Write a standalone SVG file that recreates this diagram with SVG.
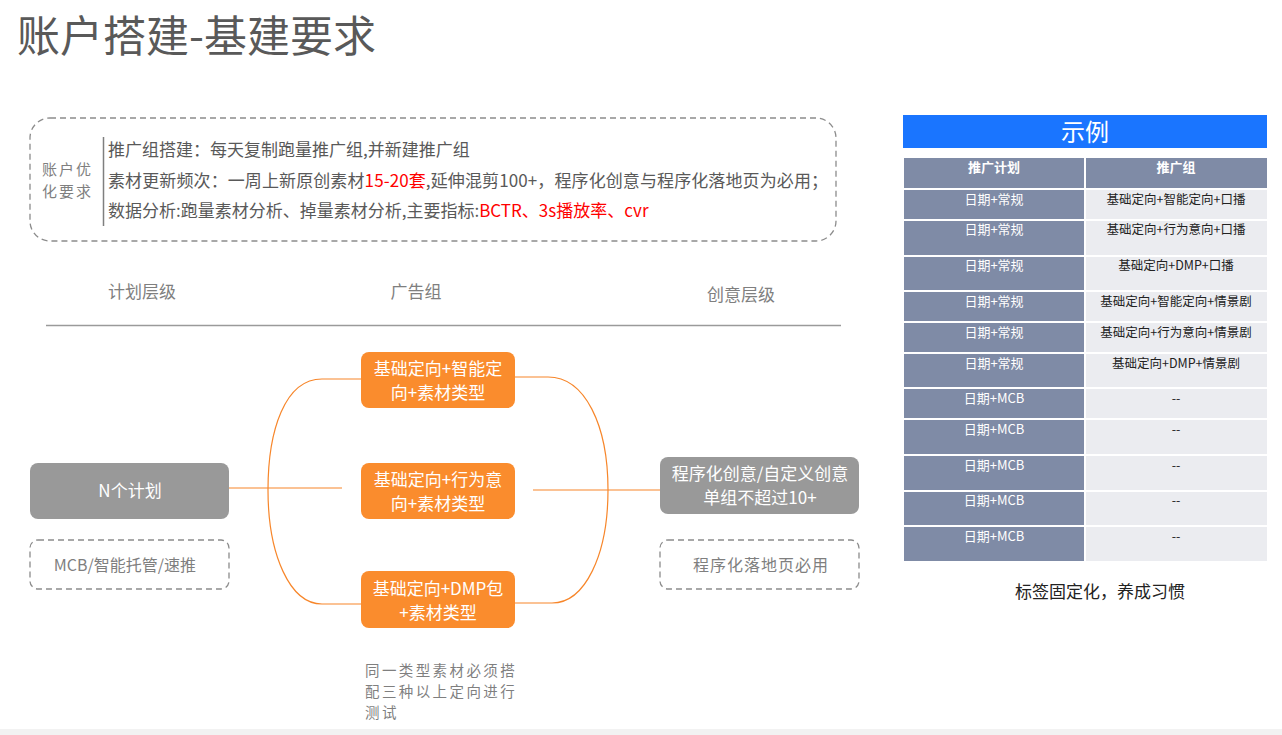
<svg xmlns="http://www.w3.org/2000/svg" width="1282" height="735" viewBox="0 0 1282 735">
<style>
text{font-family:"Noto Sans CJK SC","Liberation Sans",sans-serif;}
.t17{font-size:17px;fill:#595959;}
.lbl{font-size:17px;fill:#7f7f7f;}
.red{fill:#ff0000;}
.wt{font-size:17px;fill:#ffffff;text-anchor:middle;}
.org{fill:#fa8c2d;}
.dash{fill:none;stroke:#8c8c8c;stroke-width:1.3;stroke-dasharray:6 4;}
.con{fill:none;stroke:#f7862a;stroke-width:1.2;}
.lc{fill:#7f8ba6;}
.rc{fill:#ebecf0;}
.th{font-size:13px;fill:#ffffff;text-anchor:middle;font-weight:bold;}
.tl{font-size:13px;fill:#ffffff;text-anchor:middle;}
.tr{font-size:12.5px;fill:#222222;text-anchor:middle;}
.note{font-size:14.5px;fill:#7f7f7f;letter-spacing:2.4px;}
</style>
<rect width="1282" height="735" fill="#ffffff"/>
<rect x="0" y="729" width="1282" height="6" fill="#f2f2f2"/>
<text x="17" y="52" style="font-size:43px;fill:#595959;">账户搭建-基建要求</text>

<g id="requirements">
<rect x="30" y="118" width="806" height="123" rx="20" class="dash"/>
<text x="42" y="175" style="font-size:15px;fill:#7f7f7f;letter-spacing:2px;">账户优</text>
<text x="42" y="197" style="font-size:15px;fill:#7f7f7f;letter-spacing:2px;">化要求</text>
<line x1="103.5" y1="137" x2="103.5" y2="226" stroke="#7f7f7f" stroke-width="1.5"/>
<text x="108" y="156" class="t17">推广组搭建：每天复制跑量推广组,并新建推广组</text>
<text x="108" y="187" class="t17" textLength="720" lengthAdjust="spacing">素材更新频次：一周上新原创素材<tspan class="red">15-20套</tspan>,延伸混剪100+，程序化创意与程序化落地页为必用；</text>
<text x="108" y="217" class="t17">数据分析:跑量素材分析、掉量素材分析,主要指标:<tspan class="red">BCTR、3s播放率、cvr</tspan></text>
</g>

<g id="headers">
<text x="142" y="298" class="lbl" text-anchor="middle">计划层级</text>
<text x="416" y="298" class="lbl" text-anchor="middle">广告组</text>
<text x="741" y="301" class="lbl" text-anchor="middle">创意层级</text>
<line x1="46" y1="325.5" x2="841" y2="325.5" stroke="#9a9a9a" stroke-width="1.5"/>
</g>

<g id="connectors">
<line x1="229" y1="488" x2="342" y2="488" class="con"/>
<path d="M361,379 L322,379 C285,379 268,430 268,490 C268,555 290,604 322,604 L361,604" class="con"/>
<path d="M515,377 L548,377 C585,377 608,425 608,490 C608,555 585,603 552,603 L515,603" class="con"/>
<line x1="533" y1="490" x2="660" y2="490" class="con"/>
</g>

<g id="node-plan">
<rect x="30" y="463" width="199" height="56" rx="8" fill="#999999"/>
<text x="130" y="497" class="wt">N个计划</text>
</g>
<g id="node-plan-note">
<rect x="30" y="540" width="199" height="49" rx="8" class="dash"/>
<text x="125" y="571" style="font-size:16px;fill:#7f7f7f;" text-anchor="middle">MCB/智能托管/速推</text>
</g>

<g id="node-ad1">
<rect x="361" y="352" width="154" height="56" rx="8" class="org"/>
<text x="438" y="375" class="wt">基础定向+智能定</text>
<text x="438" y="399" class="wt">向+素材类型</text>
</g>
<g id="node-ad2">
<rect x="361" y="463" width="154" height="56" rx="8" class="org"/>
<text x="438" y="486" class="wt">基础定向+行为意</text>
<text x="438" y="510" class="wt">向+素材类型</text>
</g>
<g id="node-ad3">
<rect x="361" y="571" width="154" height="57" rx="8" class="org"/>
<text x="438" y="595" class="wt">基础定向+DMP包</text>
<text x="438" y="619" class="wt">+素材类型</text>
</g>

<g id="node-creative">
<rect x="660" y="457" width="199" height="57" rx="8" fill="#999999"/>
<text x="760" y="480" class="wt">程序化创意/自定义创意</text>
<text x="760" y="504" class="wt">单组不超过10+</text>
</g>
<g id="node-creative-note">
<rect x="660" y="540" width="199" height="49" rx="8" class="dash"/>
<text x="761" y="571" style="font-size:16px;fill:#7f7f7f;letter-spacing:1px;" text-anchor="middle">程序化落地页必用</text>
</g>

<g id="note-bottom">
<text x="365" y="676" class="note">同一类型素材必须搭</text>
<text x="365" y="697" class="note">配三种以上定向进行</text>
<text x="365" y="718" class="note">测试</text>
</g>

<g id="example-table">
<rect x="903" y="115" width="364" height="33" fill="#1a75ff"/>
<text x="1085" y="141" style="font-size:24px;fill:#ffffff;" text-anchor="middle">示例</text>
<rect x="904" y="158" width="180" height="30" class="lc"/>
<rect x="1086" y="158" width="181" height="30" class="lc"/>
<text x="994" y="172" class="th">推广计划</text>
<text x="1176" y="172" class="th">推广组</text>

<rect x="904" y="190" width="180" height="29" class="lc"/><rect x="1086" y="190" width="181" height="29" class="rc"/>
<text x="994" y="204" class="tl">日期+常规</text><text x="1176" y="204" class="tr">基础定向+智能定向+口播</text>
<rect x="904" y="221" width="180" height="34" class="lc"/><rect x="1086" y="221" width="181" height="34" class="rc"/>
<text x="994" y="234" class="tl">日期+常规</text><text x="1176" y="234" class="tr">基础定向+行为意向+口播</text>
<rect x="904" y="257" width="180" height="33" class="lc"/><rect x="1086" y="257" width="181" height="33" class="rc"/>
<text x="994" y="270" class="tl">日期+常规</text><text x="1176" y="270" class="tr">基础定向+DMP+口播</text>
<rect x="904" y="292" width="180" height="29" class="lc"/><rect x="1086" y="292" width="181" height="29" class="rc"/>
<text x="994" y="306" class="tl">日期+常规</text><text x="1176" y="306" class="tr">基础定向+智能定向+情景剧</text>
<rect x="904" y="323" width="180" height="29" class="lc"/><rect x="1086" y="323" width="181" height="29" class="rc"/>
<text x="994" y="337" class="tl">日期+常规</text><text x="1176" y="337" class="tr">基础定向+行为意向+情景剧</text>
<rect x="904" y="354" width="180" height="33" class="lc"/><rect x="1086" y="354" width="181" height="33" class="rc"/>
<text x="994" y="368" class="tl">日期+常规</text><text x="1176" y="368" class="tr">基础定向+DMP+情景剧</text>
<rect x="904" y="389" width="180" height="29" class="lc"/><rect x="1086" y="389" width="181" height="29" class="rc"/>
<text x="994" y="403" class="tl">日期+MCB</text><text x="1176" y="403" class="tr">--</text>
<rect x="904" y="420" width="180" height="34" class="lc"/><rect x="1086" y="420" width="181" height="34" class="rc"/>
<text x="994" y="434" class="tl">日期+MCB</text><text x="1176" y="434" class="tr">--</text>
<rect x="904" y="456" width="180" height="34" class="lc"/><rect x="1086" y="456" width="181" height="34" class="rc"/>
<text x="994" y="470" class="tl">日期+MCB</text><text x="1176" y="470" class="tr">--</text>
<rect x="904" y="492" width="180" height="33" class="lc"/><rect x="1086" y="492" width="181" height="33" class="rc"/>
<text x="994" y="505" class="tl">日期+MCB</text><text x="1176" y="505" class="tr">--</text>
<rect x="904" y="527" width="180" height="34" class="lc"/><rect x="1086" y="527" width="181" height="34" class="rc"/>
<text x="994" y="541" class="tl">日期+MCB</text><text x="1176" y="541" class="tr">--</text>
</g>

<g id="caption">
<text x="1100" y="598" style="font-size:17px;fill:#222222;" text-anchor="middle">标签固定化，养成习惯</text>
</g>
</svg>
